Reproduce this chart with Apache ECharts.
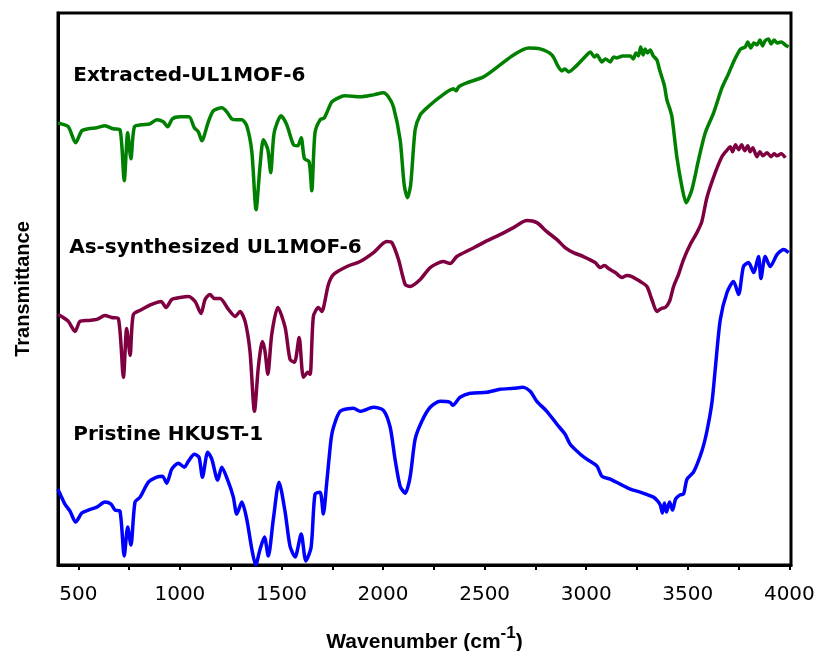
<!DOCTYPE html>
<html>
<head>
<meta charset="utf-8">
<script src="https://cdn.jsdelivr.net/npm/echarts@6/dist/echarts.min.js"></script>
<style>
  html, body { margin: 0; padding: 0; background: #fff; }
  #chart { width: 817px; height: 651px; }
</style>
</head>
<body>
<div id="chart"></div>
<script>
// FTIR spectra, vertically offset for clarity (transmittance in arbitrary units)
const labelTicks = [500, 1000, 1500, 2000, 2500, 3000, 3500, 4000];
const tickMarks = [500, 750, 1000, 1250, 1500, 1750, 2000, 2250, 2500, 2750, 3000, 3250, 3500, 3750, 4000];

const seriesNames = ['Extracted-UL1MOF-6', 'As-synthesized UL1MOF-6', 'Pristine HKUST-1'];
const seriesColors = ['#008000', '#7f0040', '#0000ff'];

// [wavenumber (cm-1), transmittance (a.u., offset)]
const extracted = [
  [400,443],[415,442],[451,439],[487,423],[517,435],[549,437],[591,438],[631,440],[672,437],[705,436],
  [726,385],[743,433],[759,407],[776,439],[812,441],[853,442],[886,446],[918,444],[940,439],[963,447],
  [1001,449],[1045,449],[1071,438],[1091,434],[1108,425],[1140,444],[1165,455],[1206,458],[1231,454],[1255,447],
  [1280,446],[1305,446],[1329,440],[1354,414],[1375,356],[1395,401],[1411,426],[1433,416],[1447,393],[1464,433],
  [1498,450],[1526,441],[1559,421],[1580,420],[1597,428],[1613,407],[1636,404],[1649,375],[1665,433],[1690,446],
  [1711,448],[1748,464],[1780,468],[1810,470],[1887,469],[1953,471],[2002,473],[2026,469],[2051,459],[2084,426],
  [2104,381],[2120,368],[2136,381],[2158,436],[2183,451],[2216,458],[2281,469],[2347,477],[2360,475],[2372,479],
  [2412,483],[2494,489],[2576,501],[2642,511],[2716,518],[2773,517],[2831,511],[2863,499],[2880,495],[2895,497],
  [2913,494],[2946,499],[3003,511],[3020,514],[3040,509],[3053,511],[3077,504],[3095,507],[3118,504],[3135,509],
  [3151,508],[3180,510],[3217,510],[3232,507],[3245,513],[3257,510],[3268,519],[3280,511],[3290,517],[3302,513],
  [3315,516],[3330,510],[3348,506],[3360,497],[3372,489],[3385,480],[3397,466],[3410,458],[3422,449],[3446,409],
  [3471,379],[3492,363],[3520,376],[3553,406],[3586,433],[3627,453],[3668,478],[3700,492],[3725,504],[3745,512],
  [3760,517],[3783,519],[3795,524],[3810,518],[3825,523],[3840,521],[3855,526],[3868,520],[3880,525],[3897,527],
  [3910,522],[3925,526],[3939,523],[3960,524],[3980,521],[3996,519]
];

const asSynthesized = [
  [400,251],[418,249],[451,244],[484,234],[508,244],[549,245],[591,246],[631,250],[664,248],[697,247],
  [722,188],[738,237],[755,210],[771,251],[812,256],[861,261],[907,264],[932,258],[960,266],[1001,268],
  [1042,269],[1075,264],[1104,252],[1124,266],[1148,271],[1170,267],[1198,267],[1239,256],[1272,249],[1296,254],
  [1321,244],[1345,214],[1367,154],[1386,198],[1406,224],[1419,214],[1433,191],[1452,231],[1482,258],[1518,238],
  [1542,206],[1564,203],[1587,228],[1608,188],[1630,193],[1641,191],[1657,249],[1682,258],[1698,254],[1731,281],
  [1756,291],[1822,299],[1887,304],[1953,313],[2018,324],[2043,323],[2076,306],[2109,281],[2133,279],[2183,286],
  [2232,298],[2297,304],[2330,302],[2363,309],[2429,316],[2494,323],[2576,331],[2642,338],[2708,345],[2757,343],
  [2806,334],[2856,326],[2896,318],[2937,313],[2986,309],[3044,303],[3069,298],[3090,300],[3110,297],[3143,293],
  [3176,288],[3200,290],[3225,289],[3250,286],[3266,284],[3299,279],[3323,266],[3348,254],[3370,257],[3389,258],
  [3410,264],[3430,279],[3454,291],[3479,306],[3512,321],[3545,333],[3569,344],[3594,368],[3635,393],[3668,409],
  [3695,416],[3709,419],[3720,414],[3735,421],[3750,416],[3765,421],[3780,415],[3795,420],[3807,414],[3820,418],
  [3840,409],[3855,414],[3870,410],[3890,413],[3910,409],[3925,412],[3939,410],[3960,412],[3980,408]
];

const pristine = [
  [400,76],[415,69],[434,61],[459,54],[487,43],[517,52],[549,55],[591,58],[631,63],[661,61],
  [681,55],[705,54],[726,9],[743,38],[759,20],[779,63],[804,68],[845,83],[886,88],[914,89],
  [935,82],[960,96],[992,102],[1022,98],[1042,104],[1071,111],[1094,108],[1111,88],[1137,113],[1157,106],
  [1186,85],[1206,98],[1239,83],[1263,68],[1280,51],[1305,63],[1329,46],[1354,16],[1373,0],[1395,16],
  [1416,28],[1435,9],[1460,46],[1488,83],[1518,53],[1542,19],[1567,8],[1597,31],[1620,4],[1646,18],
  [1665,71],[1690,73],[1706,51],[1723,83],[1744,126],[1756,138],[1789,154],[1854,157],[1887,154],[1953,158],
  [2002,155],[2035,138],[2059,106],[2084,79],[2109,72],[2133,88],[2158,126],[2191,144],[2232,158],[2281,164],
  [2330,163],[2343,160],[2379,168],[2429,172],[2511,173],[2576,176],[2642,177],[2688,178],[2724,174],[2757,164],
  [2806,154],[2856,141],[2896,131],[2921,121],[2971,111],[3003,106],[3053,99],[3077,89],[3118,86],[3167,81],
  [3217,76],[3266,73],[3331,68],[3352,64],[3365,60],[3375,52],[3385,62],[3395,53],[3410,63],[3425,55],
  [3440,66],[3460,70],[3479,71],[3496,86],[3528,93],[3569,114],[3594,134],[3619,163],[3635,196],[3660,246],
  [3693,273],[3725,284],[3750,271],[3774,299],[3799,303],[3824,293],[3848,309],[3860,287],[3881,309],[3906,299],
  [3939,311],[3972,316],[3996,313]
];

const seriesData = [extracted, asSynthesized, pristine];
// label anchors: [wavenumber, transmittance] of each series' caption
const captionAnchors = [[475, 490], [455, 318], [475, 130]];

const chart = echarts.init(document.getElementById('chart'));

const series = seriesData.map((d, i) => ({
  name: seriesNames[i],
  type: 'line',
  data: d,
  symbol: 'none',
  smooth: 0.25,
  lineStyle: { color: seriesColors[i], width: 3.5 },
  silent: true
}));

chart.setOption({
  backgroundColor: '#fff',
  animation: false,
  grid: {
    left: 58, right: 26, top: 13, bottom: 86,
    containLabel: false,
    outerBoundsMode: 'none',
    show: true, borderColor: '#000', borderWidth: 3, backgroundColor: 'transparent'
  },
  xAxis: {
    type: 'value',
    min: 400, max: 4008,
    axisLine: { show: true, lineStyle: { color: '#000', width: 3 } },
    axisTick: { show: true, inside: false, length: 5, lineStyle: { color: '#000', width: 2 }, customValues: tickMarks },
    axisLabel: {
      customValues: labelTicks, margin: 20,
      color: '#000', fontSize: 20, fontFamily: 'DejaVu Sans',
      formatter: v => String(v)
    },
    splitLine: { show: false },
    name: '{t|Wavenumber (cm}{s|-1}{t|)}',
    nameLocation: 'middle',
    nameGap: 60,
    nameTextStyle: {
      rich: {
        t: { fontSize: 21, fontWeight: 'bold', fontFamily: 'Liberation Sans', color: '#000', lineHeight: 28, verticalAlign: 'bottom' },
        s: { fontSize: 17, fontWeight: 'bold', fontFamily: 'Liberation Sans', color: '#000', lineHeight: 17, verticalAlign: 'top' }
      }
    }
  },
  yAxis: {
    type: 'value',
    min: 0, max: 553,
    axisLine: { show: true, lineStyle: { color: '#000', width: 3 } },
    axisTick: { show: false },
    axisLabel: { show: false },
    splitLine: { show: false },
    name: 'Transmittance',
    nameLocation: 'middle',
    nameGap: 25,
    nameTextStyle: { fontSize: 20, fontWeight: 'bold', fontFamily: 'Liberation Sans', color: '#000' }
  },
  series: series
});

// captions placed next to each trace, positioned through the axes
chart.setOption({
  graphic: seriesNames.map((name, i) => {
    const p = chart.convertToPixel({ gridIndex: 0 }, captionAnchors[i]);
    return {
      type: 'text',
      x: p[0], y: p[1],
      style: {
        text: name,
        font: 'bold 20px "DejaVu Sans"',
        fill: '#000',
        align: 'left',
        verticalAlign: 'middle'
      },
      silent: true
    };
  })
});
</script>
</body>
</html>
